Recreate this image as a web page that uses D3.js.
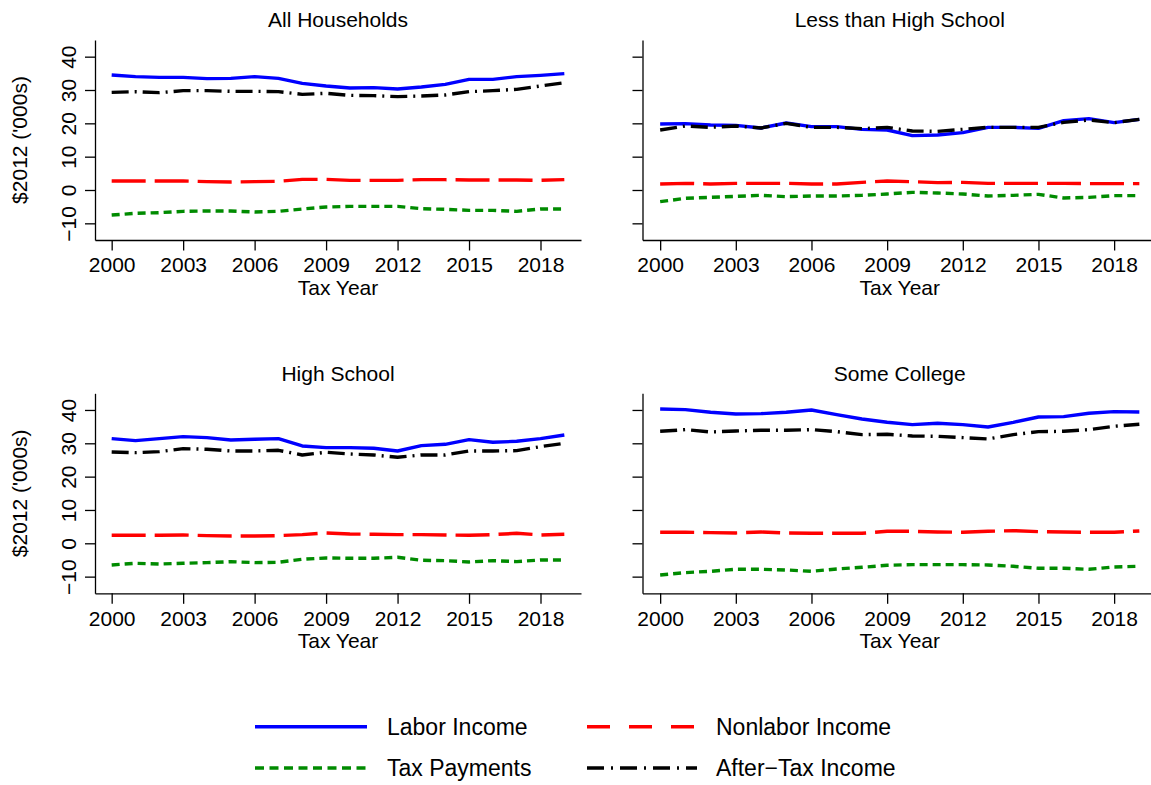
<!DOCTYPE html>
<html>
<head>
<meta charset="utf-8">
<script src="https://cdn.jsdelivr.net/npm/d3@7"></script>
<style>
  html, body { margin: 0; padding: 0; background: #ffffff; }
  svg { display: block; }
  text { font-family: "Liberation Sans", Arial, Helvetica, sans-serif; fill: #000; }
</style>
</head>
<body>
<script>
// ---- data ($2012, thousands) ----
const years = d3.range(2000, 2020);
const xTicks = [2000, 2003, 2006, 2009, 2012, 2015, 2018];
const yTicks = [-10, 0, 10, 20, 30, 40];
const panelTitles = ["All Households", "Less than High School", "High School", "Some College"];
const seriesNames = ["Labor Income", "Nonlabor Income", "Tax Payments", "After\u2212Tax Income"];

const allLabor     = [34.5, 34.0, 33.8, 33.8, 33.4, 33.5, 34.0, 33.5, 32.0, 31.2, 30.6, 30.7, 30.3, 30.9, 31.7, 33.2, 33.2, 34.0, 34.4, 34.9];
const allNonlabor  = [2.7, 2.7, 2.7, 2.7, 2.5, 2.4, 2.5, 2.6, 3.2, 3.2, 2.9, 2.9, 2.9, 3.1, 3.1, 3.0, 3.0, 3.0, 2.9, 3.1];
const allTax       = [-7.5, -7.0, -6.8, -6.4, -6.3, -6.3, -6.6, -6.4, -5.7, -5.1, -4.9, -4.9, -4.9, -5.6, -5.8, -6.1, -6.1, -6.4, -5.7, -5.7];
const allAfterTax  = [29.3, 29.5, 29.2, 29.8, 29.8, 29.6, 29.6, 29.5, 28.7, 29.0, 28.4, 28.3, 28.0, 28.2, 28.5, 29.5, 29.8, 30.2, 31.2, 32.2];

const lthsLabor    = [19.8, 19.9, 19.5, 19.4, 18.6, 20.1, 19.0, 19.0, 18.2, 18.0, 16.3, 16.5, 17.2, 18.8, 18.8, 18.5, 20.8, 21.4, 20.2, 21.2];
const lthsNonlabor = [1.8, 2.0, 1.8, 2.0, 2.0, 2.0, 1.8, 1.8, 2.3, 2.7, 2.5, 2.2, 2.3, 2.0, 2.0, 2.0, 2.0, 1.9, 1.9, 1.9];
const lthsTax      = [-3.5, -2.5, -2.2, -1.9, -1.6, -2.0, -1.8, -1.8, -1.6, -1.2, -0.7, -0.9, -1.2, -1.8, -1.6, -1.3, -2.4, -2.2, -1.7, -1.7];
const lthsAfterTax = [18.0, 19.2, 18.8, 19.2, 18.6, 20.0, 18.8, 18.8, 18.4, 18.8, 17.7, 17.6, 18.2, 18.8, 18.8, 18.8, 20.3, 21.0, 20.2, 21.2];

const hsLabor      = [31.4, 30.8, 31.4, 32.0, 31.7, 31.0, 31.2, 31.4, 29.2, 28.7, 28.7, 28.5, 27.7, 29.3, 29.7, 31.1, 30.3, 30.6, 31.4, 32.5];
const hsNonlabor   = [2.4, 2.4, 2.4, 2.5, 2.3, 2.2, 2.2, 2.3, 2.6, 3.1, 2.8, 2.7, 2.6, 2.6, 2.5, 2.4, 2.6, 3.0, 2.5, 2.7];
const hsTax        = [-6.5, -6.0, -6.2, -6.0, -5.8, -5.5, -5.8, -5.7, -4.8, -4.4, -4.5, -4.5, -4.2, -5.1, -5.2, -5.6, -5.2, -5.5, -5.0, -5.0];
const hsAfterTax   = [27.4, 27.2, 27.5, 28.4, 28.2, 27.7, 27.7, 27.9, 26.5, 27.3, 26.8, 26.5, 25.8, 26.5, 26.5, 27.7, 27.7, 27.8, 29.0, 30.0];

const scLabor      = [40.3, 40.1, 39.3, 38.8, 38.9, 39.3, 40.0, 38.6, 37.3, 36.3, 35.6, 36.0, 35.6, 34.9, 36.3, 37.9, 38.0, 39.0, 39.5, 39.4];
const scNonlabor   = [3.3, 3.3, 3.2, 3.1, 3.4, 3.1, 3.0, 3.0, 3.0, 3.6, 3.6, 3.4, 3.3, 3.6, 3.8, 3.5, 3.4, 3.3, 3.3, 3.7];
const scTax        = [-9.5, -8.8, -8.4, -7.8, -7.8, -8.0, -8.4, -7.7, -7.2, -6.6, -6.4, -6.4, -6.4, -6.5, -6.9, -7.5, -7.5, -7.8, -7.1, -6.9];
const scAfterTax   = [33.6, 34.1, 33.4, 33.7, 33.9, 33.9, 34.1, 33.5, 32.6, 32.7, 32.2, 32.1, 31.7, 31.3, 32.6, 33.5, 33.6, 34.1, 35.1, 35.7];

const panelSeries = [
  [allLabor, allNonlabor, allTax, allAfterTax],
  [lthsLabor, lthsNonlabor, lthsTax, lthsAfterTax],
  [hsLabor, hsNonlabor, hsTax, hsAfterTax],
  [scLabor, scNonlabor, scTax, scAfterTax]
];

// ---- styling ----
const FONT = 21;
const styles = [
  { color: "#0000ff", dash: null,          legendDash: null },
  { color: "#ff0000", dash: "34,9",        legendDash: "23,19" },
  { color: "#008b00", dash: "8,5",         legendDash: "9,5.5" },
  { color: "#000000", dash: "17,6,2,6",    legendDash: "17,7,2,7" }
];

// plot regions for the 2x2 grid
const layout = [
  { left: 95,    right: 581,    bottom: 240,   top: 40,    yLabels: true },
  { left: 642.5, right: 1157,   bottom: 240,   top: 40,    yLabels: false },
  { left: 95,    right: 581,    bottom: 593.3, top: 393.3, yLabels: true },
  { left: 642.5, right: 1157,   bottom: 593.3, top: 393.3, yLabels: false }
];

const svg = d3.select("body").append("svg")
  .attr("width", 1151).attr("height", 785);

layout.forEach((L, i) => {
  const x = d3.scaleLinear().domain([1999.3, 2019.7]).range([L.left, L.right]);
  const y = d3.scaleLinear().domain([-15, 45]).range([L.bottom, L.top]);
  const g = svg.append("g");

  // x axis
  const xa = g.append("g")
    .attr("transform", `translate(0,${L.bottom})`)
    .call(d3.axisBottom(x).tickValues(xTicks).tickFormat(d3.format("d"))
      .tickSize(10.5).tickSizeOuter(0).tickPadding(6.9));
  xa.selectAll("path, line").attr("stroke", "#000").attr("stroke-width", 1.3);
  xa.selectAll("text").attr("font-size", FONT)
    .attr("font-family", "Liberation Sans, Arial, sans-serif").attr("fill", "#000");

  // y axis
  const ya = g.append("g")
    .attr("transform", `translate(${L.left},0)`)
    .call(d3.axisLeft(y).tickValues(yTicks).tickSize(10).tickSizeOuter(0)
      .tickFormat(L.yLabels ? d3.format("d") : ""));
  ya.selectAll("path, line").attr("stroke", "#000").attr("stroke-width", 1.3);
  ya.selectAll("text")
    .attr("font-size", FONT)
    .attr("font-family", "Liberation Sans, Arial, sans-serif").attr("fill", "#000")
    .attr("transform", "rotate(-90)")
    .attr("x", 0).attr("y", -19).attr("dy", 0)
    .attr("text-anchor", "middle");

  const cx = (L.left + L.right) / 2;
  // panel title
  g.append("text").attr("x", cx).attr("y", L.top - 12.7)
    .attr("text-anchor", "middle").attr("font-size", FONT)
    .text(panelTitles[i]);
  // x axis title
  g.append("text").attr("x", cx).attr("y", L.bottom + 55)
    .attr("text-anchor", "middle").attr("font-size", FONT)
    .text("Tax Year");
  // y axis title
  if (L.yLabels) {
    const cy = (L.top + L.bottom) / 2;
    g.append("text")
      .attr("transform", `translate(27,${cy}) rotate(-90)`)
      .attr("text-anchor", "middle").attr("font-size", FONT)
      .text("$2012 ('000s)");
  }

  // series lines
  const line = d3.line().x((d, k) => x(years[k])).y(d => y(d));
  panelSeries[i].forEach((vals, s) => {
    g.append("path")
      .datum(vals)
      .attr("d", line)
      .attr("fill", "none")
      .attr("stroke", styles[s].color)
      .attr("stroke-width", 3.4)
      .attr("stroke-linejoin", "round")
      .attr("stroke-dasharray", styles[s].dash);
  });
});

// ---- legend ----
const legendRows = [726.7, 768];
const legendLineX = [[255, 367], [587, 697]];
const legendTextX = [387, 716];
const legend = svg.append("g");
seriesNames.forEach((name, s) => {
  const row = Math.floor(s / 2), col = s % 2;
  const ly = legendRows[row];
  legend.append("line")
    .attr("x1", legendLineX[col][0]).attr("x2", legendLineX[col][1])
    .attr("y1", ly).attr("y2", ly)
    .attr("stroke", styles[s].color).attr("stroke-width", 3.4)
    .attr("stroke-dasharray", styles[s].legendDash);
  legend.append("text")
    .attr("x", legendTextX[col]).attr("y", ly + 8.3)
    .attr("font-size", 23)
    .text(name);
});
</script>
</body>
</html>
